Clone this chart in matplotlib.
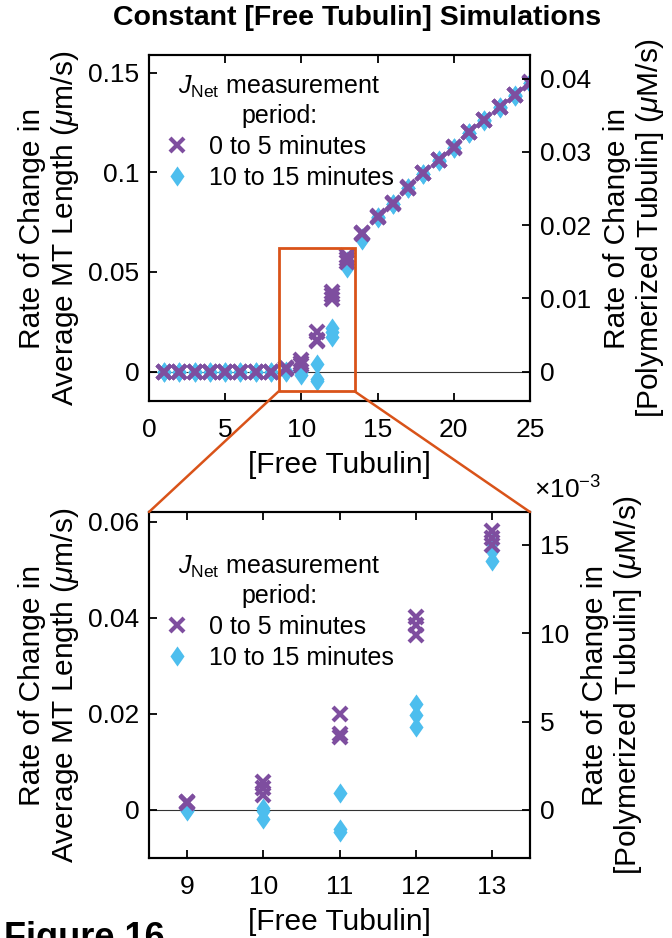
import numpy as np
import matplotlib
matplotlib.use("Agg")
import matplotlib.pyplot as plt
from matplotlib.patches import Rectangle, ConnectionPatch
from matplotlib.ticker import FuncFormatter

plt.rcParams['font.family'] = ['Liberation Sans', 'DejaVu Sans']
plt.rcParams['mathtext.fontset'] = 'custom'
plt.rcParams['mathtext.rm'] = 'Liberation Sans'
plt.rcParams['mathtext.it'] = 'Liberation Sans:italic'
plt.rcParams['mathtext.bf'] = 'Liberation Sans:bold'

# free tubulin concentrations, 3 simulation runs each
free_tubulin = list(range(1, 26))

# J_Net measured from 0 to 5 minutes (um/s)
rate_0_5 = [
    [0, 0, 0], [0, 0, 0], [0, 0, 0], [0, 0, 0],
    [0, 0, 0], [0, 0, 0], [0, 0, 0], [0, 0, 0],
    [0.0017, 0.0015, 0.0016],
    [0.0058, 0.0045, 0.0032],
    [0.0200, 0.0158, 0.0151],
    [0.0402, 0.0385, 0.0364],
    [0.0580, 0.0566, 0.0552],
    [0.0697, 0.0693, 0.0695],
    [0.0779, 0.0777, 0.0778],
    [0.0846, 0.0844, 0.0845],
    [0.0925, 0.0923, 0.0924],
    [0.0997, 0.0995, 0.0996],
    [0.1064, 0.1062, 0.1063],
    [0.1127, 0.1125, 0.1126],
    [0.1203, 0.1201, 0.1202],
    [0.1265, 0.1263, 0.1264],
    [0.1331, 0.1329, 0.1330],
    [0.1390, 0.1388, 0.1389],
    [0.1452, 0.1450, 0.1451],
]

# J_Net measured from 10 to 15 minutes (um/s)
rate_10_15 = [
    [0, 0, 0], [0, 0, 0], [0, 0, 0], [0, 0, 0],
    [0, 0, 0], [0, 0, 0], [0, 0, 0], [0, 0, 0],
    [0.0001, -0.0002, 0.0],
    [0.0005, -0.0002, -0.0019],
    [0.0036, -0.0040, -0.0046],
    [0.0221, 0.0197, 0.0172],
    [0.0555, 0.0538, 0.0518],
    [0.0672, 0.0661, 0.0666],
    [0.0775, 0.0772, 0.0774],
    [0.0843, 0.0841, 0.0842],
    [0.0922, 0.0920, 0.0921],
    [0.0994, 0.0992, 0.0993],
    [0.1061, 0.1059, 0.1060],
    [0.1124, 0.1122, 0.1123],
    [0.1200, 0.1198, 0.1199],
    [0.1262, 0.1260, 0.1261],
    [0.1328, 0.1326, 0.1327],
    [0.1387, 0.1385, 0.1386],
    [0.1449, 0.1447, 0.1448],
]

conversion = 0.272  # um/s of MT length -> uM/s of polymerized tubulin

full_xlim = (0, 25)
full_ylim = (-0.0148, 0.159)
zoom_xlim = (8.5, 13.5)
zoom_ylim = (-0.01, 0.062)

purple = '#7E4E9F'
blue = '#4DBEEE'
orange = '#D95319'
diamond = [(0, 1), (0.7, 0), (0, -1), (-0.7, 0), (0, 1)]

tick_fs = 19
label_fs = 21.5
legend_fs = 18


def fmt(v, pos):
    return f"{v:g}"


def draw(ax, xlim, ylim, xticks, yticks, rticks, rscale, legend_anchor):
    x = np.repeat(free_tubulin, 3)
    ax.axhline(0, color='0.2', lw=0.8, zorder=1)
    hb, = ax.plot(x, np.ravel(rate_10_15), ls='none', marker=diamond, ms=14.5,
                  color=blue, mec='none', zorder=3)
    hp, = ax.plot(x, np.ravel(rate_0_5), ls='none', marker='x', ms=9.5, mew=3,
                  color=purple, zorder=4)
    ax.set_xlim(xlim)
    ax.set_ylim(ylim)
    ax.set_xticks(xticks)
    ax.set_yticks(yticks)
    ax.yaxis.set_major_formatter(FuncFormatter(fmt))
    ax.tick_params(direction='in', length=6, width=1.3, top=True, right=False,
                   labelsize=tick_fs, pad=7)
    ax.tick_params(axis='x', pad=12)
    ax.set_xlabel('[Free Tubulin]', fontsize=label_fs, labelpad=7)
    ax.set_ylabel('Rate of Change in\nAverage MT Length ($\\mu$m/s)', fontsize=label_fs,
                  labelpad=5, linespacing=1.12)

    ax2 = ax.twinx()
    ax2.set_ylim(ylim[0] * conversion, ylim[1] * conversion)
    ax2.set_yticks(rticks)
    ax2.yaxis.set_major_formatter(FuncFormatter(lambda v, p: f"{v / rscale:g}"))
    ax2.tick_params(direction='in', length=6, width=1.3, labelsize=tick_fs, pad=7)
    ax2.set_ylabel('Rate of Change in\n[Polymerized Tubulin] ($\\mu$M/s)', fontsize=label_fs,
                   labelpad=9, linespacing=1.12)
    for a in (ax, ax2):
        for s in a.spines.values():
            s.set_linewidth(1.5)
            s.set_color('black')

    leg = ax.legend([hp, hb], ['0 to 5 minutes', '10 to 15 minutes'],
                    title='$J_{\\rm Net}$ measurement\nperiod:',
                    loc='upper left', bbox_to_anchor=legend_anchor, frameon=False,
                    fontsize=legend_fs, title_fontsize=legend_fs, handlelength=1.0,
                    handletextpad=0.8, borderaxespad=0, borderpad=0,
                    labelspacing=0.28)
    leg.get_title().set_multialignment('center')
    leg.get_title().set_linespacing(1.2)
    return ax2


fig = plt.figure(figsize=(6.72, 9.38), dpi=100)
ax_top = fig.add_axes([149 / 672, 1 - 401 / 938, 381 / 672, 346 / 938])
ax_bot = fig.add_axes([149 / 672, 1 - 858 / 938, 381 / 672, 346 / 938])

draw(ax_top, full_xlim, full_ylim, [0, 5, 10, 15, 20, 25], [0, 0.05, 0.1, 0.15],
     [0, 0.01, 0.02, 0.03, 0.04], 1, (0.04, 0.945))
ax2b = draw(ax_bot, zoom_xlim, zoom_ylim, [9, 10, 11, 12, 13], [0, 0.02, 0.04, 0.06],
            [0, 0.005, 0.01, 0.015], 1e-3, (0.04, 0.88))
ax2b.text(1.01, 1.025, '$\\times10^{-3}$', transform=ax2b.transAxes, ha='left',
          va='bottom', fontsize=tick_fs)

ax_top.add_patch(Rectangle((zoom_xlim[0], zoom_ylim[0]), zoom_xlim[1] - zoom_xlim[0],
                           zoom_ylim[1] - zoom_ylim[0], fill=False, ec=orange,
                           lw=2, zorder=5))
for xc in zoom_xlim:
    con = ConnectionPatch(xyA=(xc, zoom_ylim[0]), coordsA=ax_top.transData,
                          xyB=(xc, zoom_ylim[1]), coordsB=ax_bot.transData,
                          color=orange, lw=1.8)
    fig.add_artist(con)

fig.text(357 / 672, 1 - 18 / 938, 'Constant [Free Tubulin] Simulations',
         ha='center', va='center', fontsize=20.5, fontweight='bold')
fig.text(4 / 672, 1 - 921 / 938, 'Figure 16', ha='left', va='top',
         fontsize=26, fontweight='bold')

fig.savefig('out.png', dpi=100)
